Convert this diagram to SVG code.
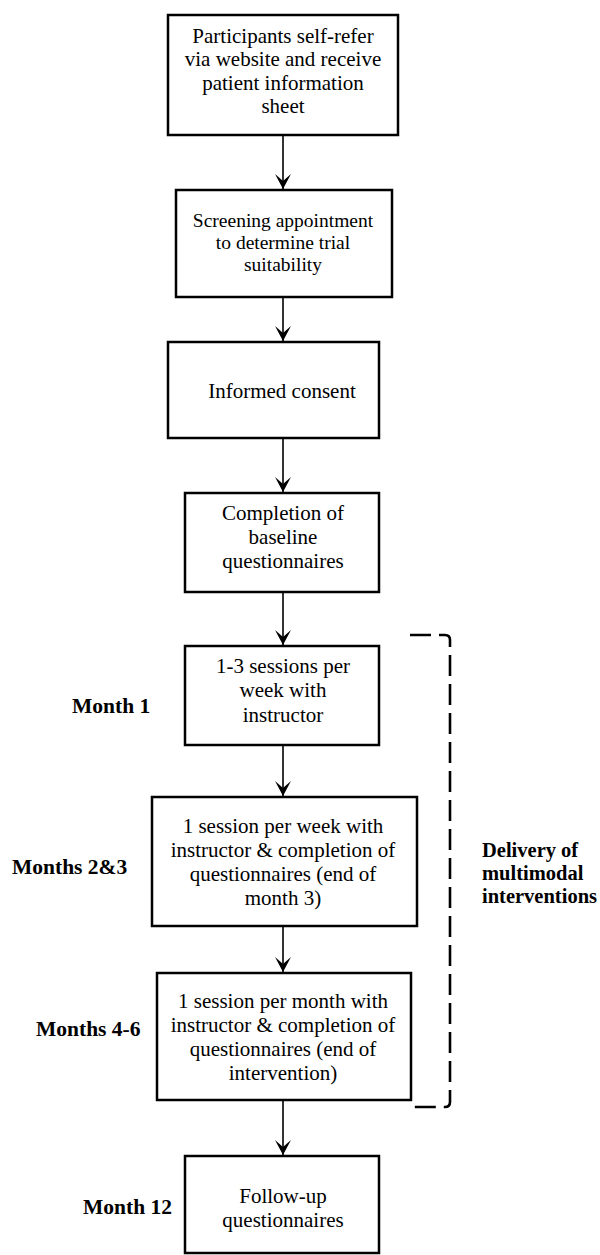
<svg xmlns="http://www.w3.org/2000/svg" width="600" height="1255" viewBox="0 0 600 1255">
<style>
.box{fill:#fff;stroke:#000;stroke-width:2.5}
.t{font-family:"Liberation Serif","Times New Roman",serif;font-size:21px;fill:#000;text-anchor:middle}
.t2{font-family:"Liberation Serif","Times New Roman",serif;font-size:19.5px;fill:#000;text-anchor:middle}
.lb{font-family:"Liberation Serif","Times New Roman",serif;font-size:21.5px;font-weight:bold;fill:#000}
.c{stroke:#000;stroke-width:1.6;fill:none}
.br{stroke:#000;stroke-width:2.6;fill:none;stroke-dasharray:21 8}
</style>
<defs>
<marker id="ah" markerUnits="userSpaceOnUse" markerWidth="20" markerHeight="20" viewBox="-17 -10 20 20" refX="0" refY="0" orient="auto">
<path d="M0,0 L-15,-8 L-8,0 L-15,8 Z" fill="#000"/>
</marker>
</defs>
<rect width="600" height="1255" fill="#fff"/>
<g id="connectors">
<line class="c" x1="283" y1="135" x2="283" y2="189" marker-end="url(#ah)"/>
<line class="c" x1="283" y1="297" x2="283" y2="341" marker-end="url(#ah)"/>
<line class="c" x1="283" y1="438" x2="283" y2="492" marker-end="url(#ah)"/>
<line class="c" x1="283" y1="592" x2="283" y2="645" marker-end="url(#ah)"/>
<line class="c" x1="283" y1="745" x2="283" y2="796" marker-end="url(#ah)"/>
<line class="c" x1="283" y1="926" x2="283" y2="972" marker-end="url(#ah)"/>
<line class="c" x1="283" y1="1100" x2="283" y2="1155" marker-end="url(#ah)"/>
</g>
<g id="n1"><rect class="box" x="168" y="15" width="230" height="120"/>
<text class="t" x="283" y="42.5">Participants self-refer</text>
<text class="t" x="283" y="66">via website and receive</text>
<text class="t" x="283" y="89.5">patient information</text>
<text class="t" x="283" y="113">sheet</text></g>
<g id="n2"><rect class="box" x="176" y="190" width="216" height="107"/>
<text class="t2" x="283" y="227">Screening appointment</text>
<text class="t2" x="283" y="249">to determine trial</text>
<text class="t2" x="283" y="271">suitability</text></g>
<g id="n3"><rect class="box" x="168" y="342" width="211" height="96"/>
<text class="t" x="282" y="398">Informed consent</text></g>
<g id="n4"><rect class="box" x="185" y="493" width="194" height="99"/>
<text class="t" x="283" y="520">Completion of</text>
<text class="t" x="283" y="544">baseline</text>
<text class="t" x="283" y="568">questionnaires</text></g>
<g id="n5"><rect class="box" x="185" y="646" width="194" height="99"/>
<text class="t" x="283" y="673">1-3 sessions per</text>
<text class="t" x="283" y="697">week with</text>
<text class="t" x="283" y="722">instructor</text></g>
<g id="n6"><rect class="box" x="152" y="797" width="265" height="129"/>
<text class="t" x="283" y="833">1 session per week with</text>
<text class="t" x="283" y="857">instructor &amp; completion of</text>
<text class="t" x="283" y="881">questionnaires (end of</text>
<text class="t" x="283" y="905">month 3)</text></g>
<g id="n7"><rect class="box" x="157" y="973" width="254" height="127"/>
<text class="t" x="283" y="1008">1 session per month with</text>
<text class="t" x="283" y="1032">instructor &amp; completion of</text>
<text class="t" x="283" y="1056">questionnaires (end of</text>
<text class="t" x="283" y="1080">intervention)</text></g>
<g id="n8"><rect class="box" x="185" y="1156" width="194" height="97"/>
<text class="t" x="283" y="1203">Follow-up</text>
<text class="t" x="283" y="1227">questionnaires</text></g>
<g id="labels">
<text class="lb" x="72" y="713">Month 1</text>
<text class="lb" x="12" y="874">Months 2&amp;3</text>
<text class="lb" x="36" y="1036">Months 4-6</text>
<text class="lb" x="83" y="1214">Month 12</text>
</g>
<g id="bracket">
<path class="br" d="M410,635 H445 Q450,635 450,640 V1102 Q450,1107 445,1107 H410"/>
<text class="lb" x="482" y="857" style="font-size:20.5px">Delivery of</text>
<text class="lb" x="482" y="880" style="font-size:20.5px">multimodal</text>
<text class="lb" x="482" y="903" style="font-size:20.5px">interventions</text>
</g>
</svg>
